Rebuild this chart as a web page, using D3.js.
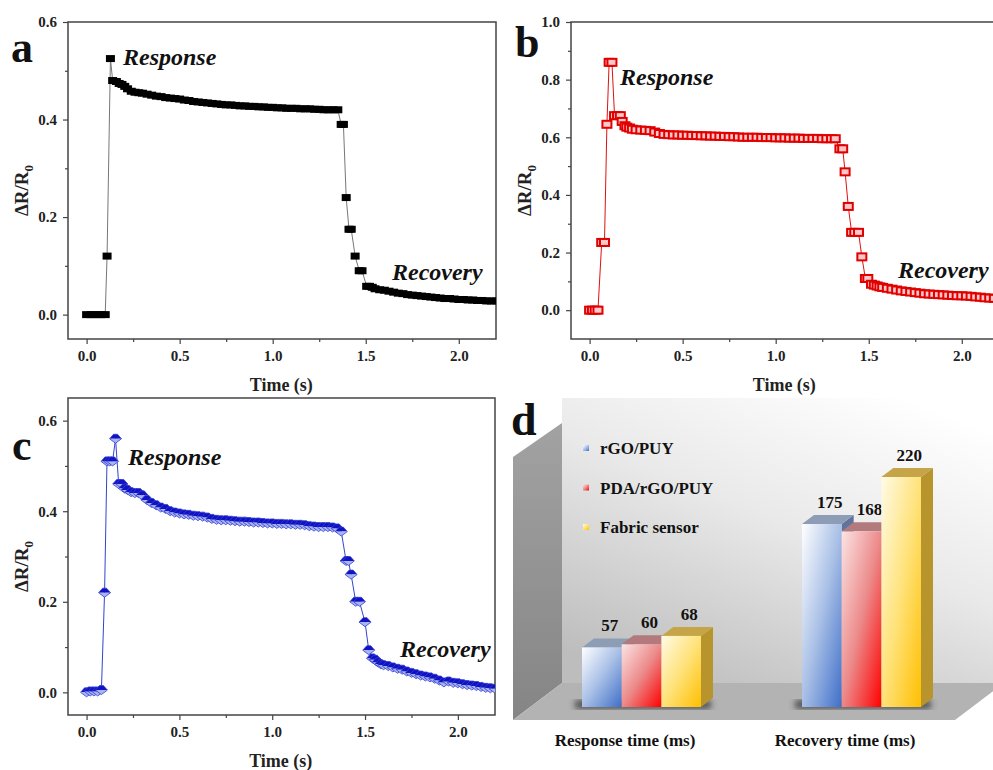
<!DOCTYPE html>
<html>
<head>
<meta charset="utf-8">
<script src="https://cdn.jsdelivr.net/npm/d3@7"></script>
<style>
  body { margin: 0; background: #fff; }
  svg text { font-family: 'Liberation Serif', 'Times New Roman', serif; font-weight: bold; }
</style>
</head>
<body>
<svg width="993" height="770"></svg>
<script>
// ---- data: [time (s), dR/R0] ----
var dataA = [[0,0],[0.025,0],[0.05,0],[0.075,0],[0.1,0],[0.11,0.12],[0.128,0.525],
  [0.14,0.48],[0.16,0.478],[0.175,0.474],[0.19,0.472],[0.205,0.468],[0.22,0.463],[0.24,0.458],[0.26,0.456],
  [0.28,0.455],[0.3,0.454],[0.325,0.452],[0.35,0.45],[0.375,0.448],[0.4,0.447],[0.425,0.445],[0.45,0.444],
  [0.475,0.443],[0.5,0.442],[0.525,0.44],[0.55,0.439],[0.575,0.437],[0.6,0.436],[0.625,0.435],[0.65,0.434],
  [0.675,0.433],[0.7,0.432],[0.725,0.431],[0.75,0.43],[0.775,0.43],[0.8,0.429],[0.825,0.428],[0.85,0.428],
  [0.875,0.427],[0.9,0.427],[0.925,0.426],[0.95,0.426],[0.975,0.425],[1.0,0.425],[1.025,0.424],[1.05,0.424],
  [1.075,0.423],[1.1,0.423],[1.125,0.423],[1.15,0.422],[1.175,0.422],[1.2,0.422],[1.225,0.421],[1.25,0.421],
  [1.275,0.42],[1.3,0.42],[1.325,0.42],[1.35,0.42],[1.368,0.39],[1.38,0.39],[1.395,0.24],[1.41,0.175],
  [1.422,0.175],[1.443,0.12],[1.465,0.09],[1.48,0.09],[1.505,0.058],[1.52,0.058],[1.535,0.056],[1.55,0.053],
  [1.575,0.051],[1.6,0.05],[1.625,0.048],[1.65,0.046],[1.675,0.044],[1.7,0.043],[1.725,0.041],[1.75,0.04],
  [1.775,0.039],[1.8,0.038],[1.825,0.037],[1.85,0.036],[1.875,0.035],[1.9,0.034],[1.925,0.033],[1.95,0.033],
  [1.975,0.032],[2.0,0.031],[2.025,0.031],[2.05,0.03],[2.075,0.03],[2.1,0.029],[2.125,0.029],[2.15,0.028],
  [2.175,0.028],[2.2,0.028]];

var dataB = [[0,0],[0.015,0],[0.03,0],[0.045,0],[0.065,0.235],[0.08,0.235],[0.093,0.645],[0.105,0.86],
  [0.12,0.86],[0.134,0.675],[0.15,0.675],[0.165,0.675],[0.175,0.655],[0.19,0.64],[0.2,0.635],[0.215,0.632],
  [0.23,0.628],[0.25,0.626],[0.275,0.625],[0.3,0.624],[0.325,0.623],[0.35,0.618],[0.375,0.613],[0.4,0.61],
  [0.425,0.609],[0.45,0.608],[0.475,0.608],[0.5,0.607],[0.525,0.607],[0.55,0.606],[0.575,0.606],[0.6,0.605],
  [0.625,0.605],[0.65,0.604],[0.675,0.604],[0.7,0.603],[0.725,0.603],[0.75,0.602],[0.775,0.602],[0.8,0.601],
  [0.825,0.6],[0.85,0.6],[0.875,0.6],[0.9,0.6],[0.925,0.599],[0.95,0.599],[0.975,0.599],[1.0,0.598],
  [1.025,0.598],[1.05,0.598],[1.075,0.597],[1.1,0.597],[1.125,0.597],[1.15,0.596],[1.175,0.596],[1.2,0.596],
  [1.225,0.596],[1.25,0.595],[1.275,0.595],[1.3,0.595],[1.32,0.595],[1.345,0.56],[1.36,0.56],[1.373,0.48],
  [1.39,0.36],[1.408,0.27],[1.425,0.27],[1.445,0.27],[1.463,0.185],[1.482,0.11],[1.495,0.11],[1.515,0.09],
  [1.53,0.087],[1.545,0.084],[1.56,0.081],[1.575,0.079],[1.6,0.076],[1.625,0.073],[1.65,0.07],[1.675,0.067],
  [1.7,0.065],[1.725,0.063],[1.75,0.061],[1.775,0.059],[1.8,0.057],[1.825,0.056],[1.85,0.055],[1.875,0.054],
  [1.9,0.053],[1.925,0.052],[1.95,0.051],[1.975,0.05],[2.0,0.05],[2.025,0.049],[2.05,0.048],[2.075,0.046],
  [2.1,0.045],[2.125,0.043],[2.15,0.042],[2.175,0.041],[2.2,0.04]];

var dataC = [[0,0],[0.02,0.002],[0.04,0.002],[0.06,0.002],[0.08,0.005],[0.097,0.22],[0.11,0.51],[0.125,0.51],
  [0.14,0.51],[0.156,0.56],[0.173,0.46],[0.19,0.46],[0.205,0.45],[0.22,0.447],[0.24,0.442],[0.26,0.44],
  [0.28,0.44],[0.3,0.435],[0.325,0.425],[0.35,0.418],[0.375,0.413],[0.4,0.408],[0.425,0.405],[0.45,0.4],
  [0.475,0.397],[0.5,0.395],[0.525,0.393],[0.55,0.392],[0.575,0.39],[0.6,0.389],[0.625,0.388],[0.65,0.386],
  [0.675,0.383],[0.7,0.381],[0.725,0.38],[0.75,0.38],[0.775,0.379],[0.8,0.378],[0.825,0.377],[0.85,0.377],
  [0.875,0.376],[0.9,0.375],[0.925,0.375],[0.95,0.374],[0.975,0.373],[1.0,0.373],[1.025,0.372],[1.05,0.372],
  [1.075,0.371],[1.1,0.371],[1.125,0.37],[1.15,0.37],[1.175,0.369],[1.2,0.367],[1.225,0.366],[1.25,0.365],
  [1.275,0.365],[1.3,0.365],[1.325,0.364],[1.35,0.362],[1.372,0.355],[1.398,0.29],[1.41,0.29],[1.425,0.26],
  [1.45,0.2],[1.47,0.2],[1.5,0.155],[1.52,0.093],[1.54,0.075],[1.555,0.072],[1.57,0.066],[1.585,0.062],
  [1.6,0.06],[1.625,0.058],[1.65,0.055],[1.675,0.052],[1.7,0.05],[1.725,0.046],[1.75,0.043],[1.775,0.04],
  [1.8,0.037],[1.825,0.035],[1.85,0.033],[1.875,0.03],[1.9,0.026],[1.925,0.022],[1.95,0.024],[1.975,0.021],
  [2.0,0.02],[2.025,0.018],[2.05,0.016],[2.075,0.015],[2.1,0.014],[2.125,0.012],[2.15,0.01],[2.175,0.009],
  [2.2,0.008]];

var xTicks = [0, 0.5, 1.0, 1.5, 2.0];
var xMinor = [0.25, 0.75, 1.25, 1.75];

// bar chart (d)
var groups = ["Response time (ms)", "Recovery time (ms)"];
var series = ["rGO/PUY", "PDA/rGO/PUY", "Fabric sensor"];
var barValues = [[57, 60, 68], [175, 168, 220]];

var svg = d3.select("svg");
var defs = svg.append("defs");

//draw one line panel
var drawPanel = function(cfg)
{
  var x = d3.scaleLinear().domain([-0.1, 2.2]).range(cfg.xr);
  var y = d3.scaleLinear().domain(cfg.yd).range(cfg.yr);
  var g = svg.append("g");

  defs.append("clipPath").attr("id", "clip" + cfg.id)
    .append("rect").attr("x", cfg.xr[0]).attr("y", cfg.yr[1])
    .attr("width", cfg.xr[1] - cfg.xr[0]).attr("height", cfg.yr[0] - cfg.yr[1]);

  // axes, ticks outside
  var xa = g.append("g").attr("transform", "translate(0," + cfg.yr[0] + ")")
    .call(d3.axisBottom(x).tickValues(xTicks).tickFormat(d3.format(".1f")).tickSize(5).tickSizeOuter(0));
  g.append("g").attr("transform", "translate(0," + cfg.yr[0] + ")")
    .call(d3.axisBottom(x).tickValues(xMinor).tickFormat("").tickSize(3).tickSizeOuter(0));
  var ya = g.append("g").attr("transform", "translate(" + cfg.xr[0] + ",0)")
    .call(d3.axisLeft(y).tickValues(cfg.yTicks).tickFormat(d3.format(".1f")).tickSize(5).tickSizeOuter(0));
  g.append("g").attr("transform", "translate(" + cfg.xr[0] + ",0)")
    .call(d3.axisLeft(y).tickValues(cfg.yMinor).tickFormat("").tickSize(3).tickSizeOuter(0));
  g.selectAll(".domain").remove();
  g.selectAll(".tick line").attr("stroke", "#444").attr("stroke-width", 1.2);
  g.selectAll(".tick text").style("font-size", "15px").attr("fill", "#222");
  xa.selectAll(".tick text").attr("dy", "0.95em");
  ya.selectAll(".tick text").attr("dx", "-3");

  // frame
  g.append("rect")
    .attr("x", cfg.xr[0]).attr("y", cfg.yr[1])
    .attr("width", cfg.xr[1] - cfg.xr[0]).attr("height", cfg.yr[0] - cfg.yr[1])
    .attr("fill", "none").attr("stroke", "#444").attr("stroke-width", 1.5);

  var plot = g.append("g").attr("clip-path", "url(#clip" + cfg.id + ")");
  var line = d3.line().x(function(d){ return x(d[0]); }).y(function(d){ return y(d[1]); });
  plot.append("path").datum(cfg.data)
    .attr("d", line).attr("fill", "none")
    .attr("stroke", cfg.lineColor).attr("stroke-width", 1);

  var pts = plot.selectAll(".pt").data(cfg.data).enter().append("g")
    .attr("transform", function(d){ return "translate(" + x(d[0]) + "," + y(d[1]) + ")"; });
  cfg.marker(pts);

  // labels
  g.append("text").text(cfg.letter).attr("x", cfg.letterPos[0]).attr("y", cfg.letterPos[1])
    .style("font-size", "44px").attr("fill", "#111");
  g.append("text").text("Response").attr("x", cfg.resp[0]).attr("y", cfg.resp[1])
    .style("font-size", "24px").style("font-style", "italic").attr("fill", "#111");
  g.append("text").text("Recovery").attr("x", cfg.rec[0]).attr("y", cfg.rec[1])
    .style("font-size", "24px").style("font-style", "italic").attr("fill", "#111");
  g.append("text").text("Time (s)")
    .attr("x", (x(0) + x(2.2)) / 2 - 10).attr("y", cfg.yr[0] + 52)
    .attr("text-anchor", "middle").style("font-size", "18px").attr("fill", "#222");
  var yl = g.append("text")
    .attr("transform", "translate(" + (cfg.xr[0] - 40) + "," + ((cfg.yr[0] + cfg.yr[1]) / 2 + 10) + ") rotate(-90)")
    .attr("text-anchor", "middle").style("font-size", "19px").attr("fill", "#222");
  yl.append("tspan").text("\u0394R/R");
  yl.append("tspan").text("0").style("font-size", "13px").attr("dy", "5");
};

drawPanel({
  id: "a", data: dataA, xr: [68, 496], yd: [-0.05, 0.6], yr: [339, 22],
  yTicks: [0, 0.2, 0.4, 0.6], yMinor: [0.1, 0.3, 0.5], lineColor: "#777",
  letter: "a", letterPos: [11, 62], resp: [123, 65], rec: [392, 280],
  marker: function(sel){
    sel.append("rect").attr("x", -4.5).attr("y", -3.5).attr("width", 9).attr("height", 7).attr("fill", "#000");
  }
});

drawPanel({
  id: "b", data: dataB, xr: [571, 999], yd: [-0.1, 1.0], yr: [339, 22],
  yTicks: [0, 0.2, 0.4, 0.6, 0.8, 1.0], yMinor: [0.1, 0.3, 0.5, 0.7, 0.9], lineColor: "#e01010",
  letter: "b", letterPos: [515, 57], resp: [620, 85], rec: [898, 278],
  marker: function(sel){
    sel.append("rect").attr("x", -4.5).attr("y", -3.5).attr("width", 9).attr("height", 7)
      .attr("fill", "#ffc8c8").attr("stroke", "#e00000").attr("stroke-width", 2);
  }
});

drawPanel({
  id: "c", data: dataC, xr: [68, 495], yd: [-0.05, 0.65], yr: [715, 398],
  yTicks: [0, 0.2, 0.4, 0.6], yMinor: [0.1, 0.3, 0.5], lineColor: "#3344cc",
  letter: "c", letterPos: [12, 460], resp: [128, 465], rec: [400, 657],
  marker: function(sel){
    sel.append("path").attr("d", "M-6,0 L-2,-4.5 L2,-4.5 L6,0 Z").attr("fill", "#1212c4");
    sel.append("path").attr("d", "M-6,0 L0,4.5 L6,0 Z").attr("fill", "#aab4f0");
    sel.append("path").attr("d", "M-6,0 L-2,-4.5 L2,-4.5 L6,0 L0,4.5 Z").attr("fill", "none")
      .attr("stroke", "#3040d0").attr("stroke-width", 0.8);
  }
});

// ---------- panel d: pseudo 3D bars ----------
var dx = 12, dy = -9;
var yBar = d3.scaleLinear().domain([0, 220]).range([707, 477]);
var xGroup = d3.scalePoint().domain(groups).range([641, 861]);
var xBar = d3.scaleBand().domain(series).range([-59, 60]);
var faceColors = [
  { light: "#ffffff", mid: "#a8bfe6", dark: "#3f6fc9", top: "#8d9db6", side: "#5f739c" },
  { light: "#fbe4e4", mid: "#ec8a8a", dark: "#ff0000", top: "#b27a7c", side: "#a04848" },
  { light: "#fffbe6", mid: "#ffe27a", dark: "#ffbf00", top: "#c5a547", side: "#b8942c" }
];

faceColors.forEach(function(c, i){
  var gr = defs.append("linearGradient").attr("id", "bar" + i)
    .attr("x1", 0).attr("y1", 0).attr("x2", 1).attr("y2", 1);
  gr.append("stop").attr("offset", "0%").attr("stop-color", c.light);
  gr.append("stop").attr("offset", "50%").attr("stop-color", c.mid);
  gr.append("stop").attr("offset", "100%").attr("stop-color", c.dark);
});

var wallG = defs.append("linearGradient").attr("id", "wall")
  .attr("x1", 0.2).attr("y1", 1).attr("x2", 0.8).attr("y2", 0);
wallG.append("stop").attr("offset", "0%").attr("stop-color", "#bdbdbd");
wallG.append("stop").attr("offset", "55%").attr("stop-color", "#e9e9e9");
wallG.append("stop").attr("offset", "100%").attr("stop-color", "#ffffff");
var sideG = defs.append("linearGradient").attr("id", "sidewall")
  .attr("x1", 0).attr("y1", 0).attr("x2", 0).attr("y2", 1);
sideG.append("stop").attr("offset", "0%").attr("stop-color", "#a2a2a2");
sideG.append("stop").attr("offset", "100%").attr("stop-color", "#858585");
defs.append("filter").attr("id", "blur").append("feGaussianBlur").attr("stdDeviation", 3);

var d = svg.append("g");
d.append("rect").attr("x", 562).attr("y", 398).attr("width", 431).attr("height", 285).attr("fill", "url(#wall)");
d.append("polygon").attr("points", "513,457 562,423 562,683 513,720").attr("fill", "url(#sidewall)");
d.append("polygon").attr("points", "513,720 955,720 1004,683 562,683").attr("fill", "#b3b3b3");

// shadows under bars
groups.forEach(function(gname){
  var cx = xGroup(gname);
  d.append("rect").attr("x", cx - 66).attr("y", 700).attr("width", 136).attr("height", 9)
    .attr("fill", "#333").attr("opacity", 0.75).attr("filter", "url(#blur)");
});

groups.forEach(function(gname, gi){
  series.forEach(function(s, si){
    var v = barValues[gi][si];
    var x0 = xGroup(gname) + xBar(s), w = xBar.bandwidth();
    var yt = yBar(v), yb = yBar(0);
    var c = faceColors[si];
    d.append("polygon").attr("fill", c.side)
      .attr("points", [[x0 + w, yt], [x0 + w + dx, yt + dy], [x0 + w + dx, yb + dy], [x0 + w, yb]].join(" "));
    d.append("polygon").attr("fill", c.top)
      .attr("points", [[x0, yt], [x0 + dx, yt + dy], [x0 + w + dx, yt + dy], [x0 + w, yt]].join(" "));
    d.append("rect").attr("x", x0).attr("y", yt).attr("width", w).attr("height", yb - yt)
      .attr("fill", "url(#bar" + si + ")");
    d.append("text").text(v).attr("x", x0 + w / 2 + 8).attr("y", yt + dy - 7)
      .attr("text-anchor", "middle").style("font-size", "17px").attr("fill", "#111");
  });
  d.append("text").text(gname).attr("x", xGroup(gname) - 16).attr("y", 746)
    .attr("text-anchor", "middle").style("font-size", "17px").attr("fill", "#111");
});

// legend
var leg = d.selectAll(".leg").data(series).enter().append("g")
  .attr("transform", function(s, i){ return "translate(583," + (454 + i * 39.5) + ")"; });
leg.append("rect").attr("x", 0).attr("y", -9).attr("width", 6).attr("height", 6)
  .attr("fill", function(s, i){ return "url(#bar" + i + ")"; });
leg.append("text").text(function(s){ return s; }).attr("x", 17).attr("y", 0)
  .style("font-size", "17px").attr("fill", "#111");

d.append("text").text("d").attr("x", 511).attr("y", 435).style("font-size", "46px").attr("fill", "#111");
</script>
</body>
</html>
